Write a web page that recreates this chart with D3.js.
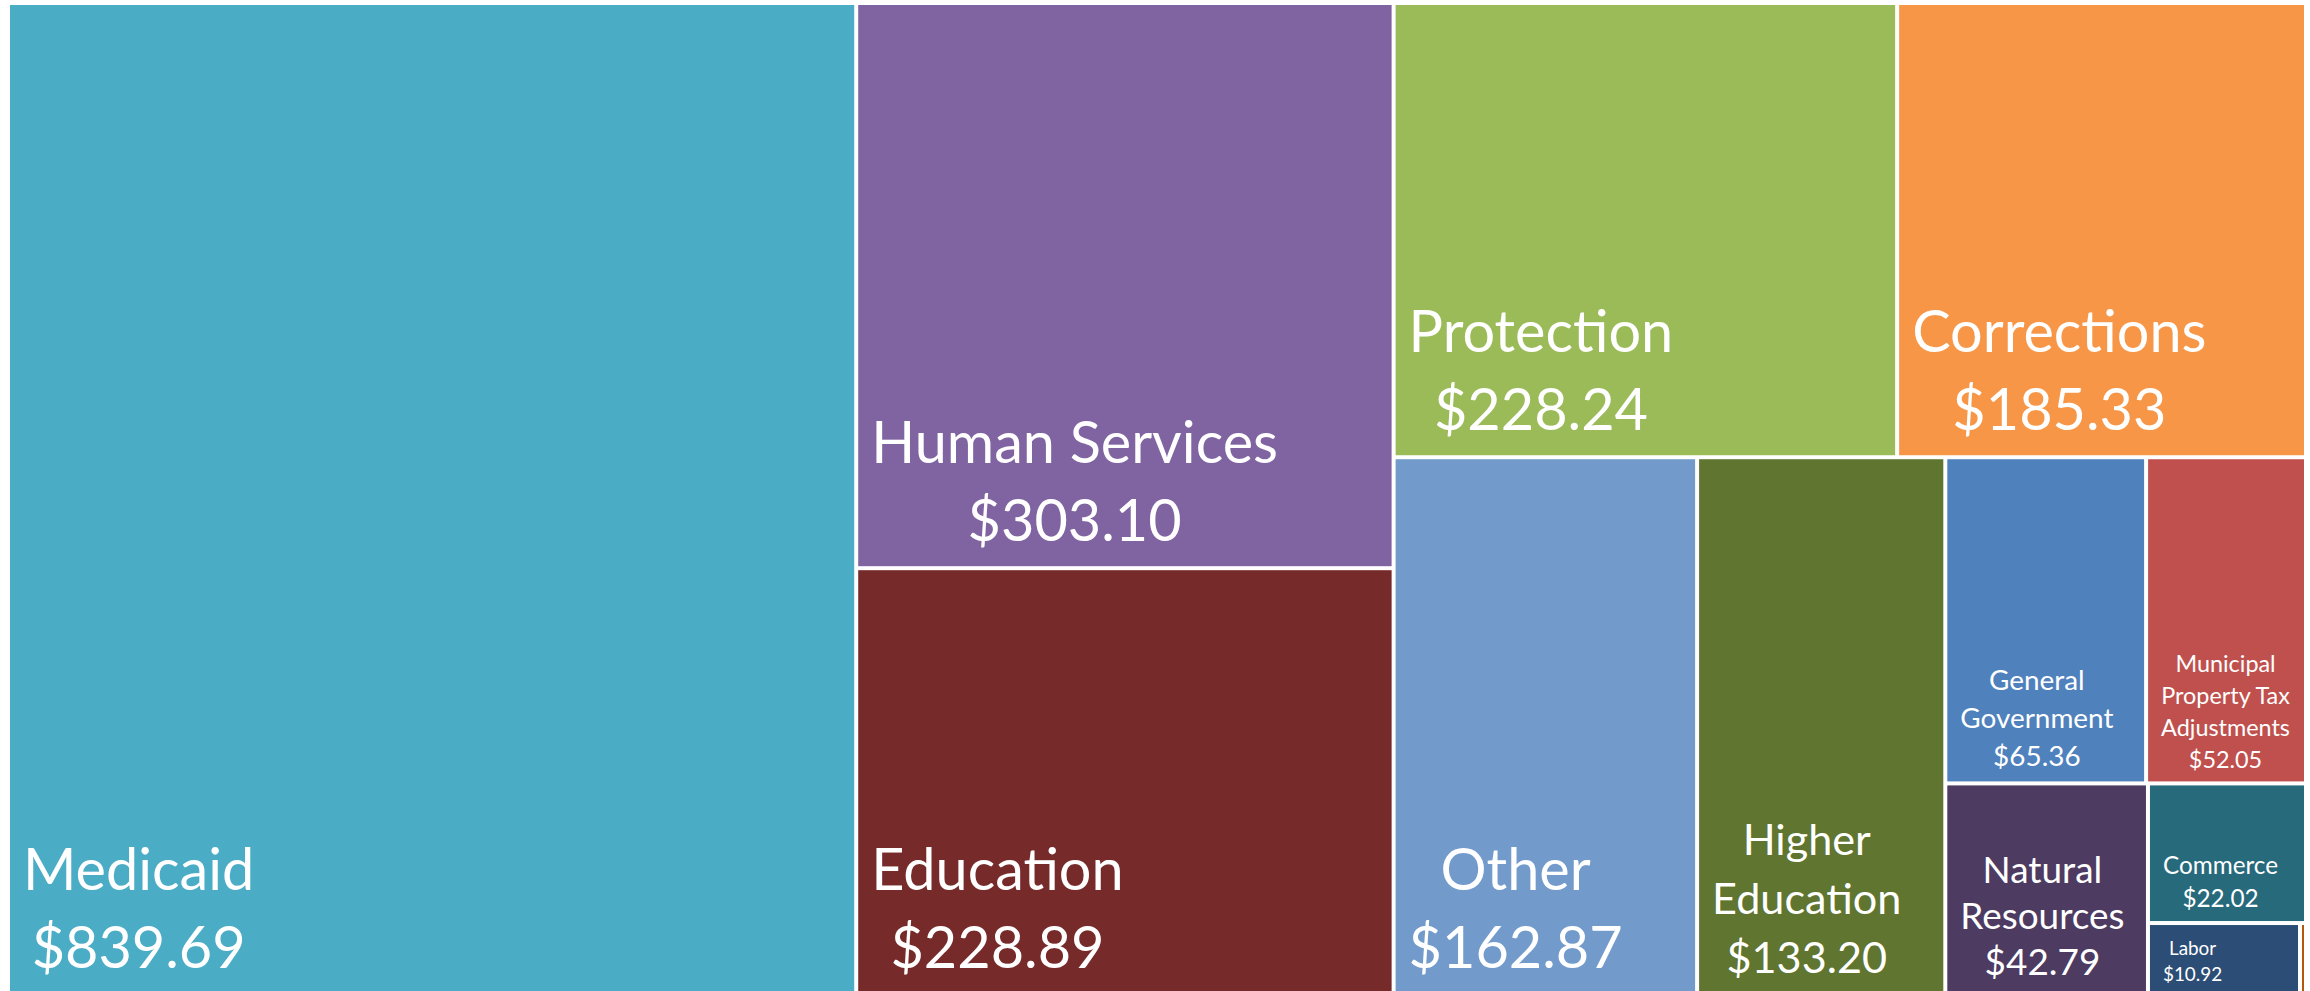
<!DOCTYPE html>
<html>
<head>
<meta charset="utf-8">
<script src="https://cdn.jsdelivr.net/npm/d3@7"></script>
<style>
  body { margin: 0; background: #fff; }
  .label { font-family: Lato, "Open Sans", sans-serif; fill: #fff; }
</style>
</head>
<body>
<div id="treemap"></div>
<script>
// spending by category, in millions
var categories = [
  "Medicaid", "Human Services", "Education", "Protection", "Corrections",
  "Other", "Higher Education", "General Government",
  "Municipal Property Tax Adjustments", "Natural Resources", "Commerce",
  "Labor", "Miscellaneous"
];
var amounts = [
  839.69, 303.10, 228.89, 228.24, 185.33,
  162.87, 133.20, 65.36,
  52.05, 42.79, 22.02,
  10.92, 0.43
];

var svgWidth = 2310;
var svgHeight = 991;

var margin = {
  top: 5,
  right: 6,
  bottom: -2,
  left: 10
};

var width = svgWidth - margin.left - margin.right;
var height = svgHeight - margin.top - margin.bottom;

// fill colours (office palette)
var fillOf = {
  "Medicaid": "#4BACC6",
  "Human Services": "#8064A2",
  "Education": "#772A2A",
  "Protection": "#9BBB59",
  "Corrections": "#F79646",
  "Other": "#729ACA",
  "Higher Education": "#5F7530",
  "General Government": "#4F81BD",
  "Municipal Property Tax Adjustments": "#C0504D",
  "Natural Resources": "#4D3B62",
  "Commerce": "#276A7C",
  "Labor": "#2C4D75",
  "Miscellaneous": "#B65708"
};

// label size per cell (the source shrinks text to fit small cells)
var labelSize = {
  "Higher Education": 48,
  "Natural Resources": 41,
  "General Government": 31,
  "Commerce": 27,
  "Municipal Property Tax Adjustments": 26,
  "Labor": 21
};

// how many tiles go in each strip, the way the spreadsheet laid them out
var rowSizes = [1, 2, 2, 1, 1, 2, 1, 1, 1, 1];

function stripTile(parent, x0, y0, x1, y1) {
  var nodes = parent.children;
  var value = parent.value;
  var i = 0;
  rowSizes.forEach(function(n) {
    var kids = nodes.slice(i, i + n);
    var row = {children: kids, value: d3.sum(kids, d => d.value)};
    var dx = x1 - x0, dy = y1 - y0;
    if (dx < dy) {
      d3.treemapDice(row, x0, y0, x1, y0 += dy * row.value / value);
    }
    else {
      d3.treemapSlice(row, x0, y0, x0 += dx * row.value / value, y1);
    }
    value -= row.value;
    i += n;
  });
}

var svg = d3
  .select("#treemap")
  .append("svg")
  .attr("width", svgWidth)
  .attr("height", svgHeight);

var chartGroup = svg.append("g")
  .attr("transform", `translate(${margin.left}, ${margin.top})`);

var root = d3.hierarchy({
    children: categories.map((c, i) => ({name: c, value: amounts[i]}))
  })
  .sum(d => d.value || 0)
  .sort((a, b) => b.value - a.value);

d3.treemap()
  .size([width, height])
  .paddingInner(4)
  .tile(stripTile)(root);

var cells = chartGroup.selectAll("g.cell")
  .data(root.leaves())
  .enter()
  .append("g")
  .classed("cell", true)
  .attr("transform", d => `translate(${d.x0}, ${d.y0})`);

cells.append("rect")
  .attr("width", d => d.x1 - d.x0)
  .attr("height", d => d.y1 - d.y0)
  .attr("fill", d => fillOf[d.data.name]);

// labels: word-wrapped name + amount, block sits at the bottom left
cells.each(function(d) {
  var w = d.x1 - d.x0, h = d.y1 - d.y0;
  if (w < 30) return;
  var g = d3.select(this);
  var fs = labelSize[d.data.name] || 64;
  var px = fs * 0.9;
  var lineH = Math.min(fs, 38) === 38 && fs < 45 ? 46 : fs * 1.22;

  var text = g.append("text")
    .classed("label", true)
    .attr("font-size", px + "px")
    .attr("text-anchor", "middle");

  // greedy wrap
  var words = d.data.name.split(" ");
  var lines = [];
  var line = [];
  var probe = text.append("tspan");
  words.forEach(function(word) {
    line.push(word);
    probe.text(line.join(" "));
    if (probe.node().getComputedTextLength() > w - 22 && line.length > 1) {
      line.pop();
      lines.push(line.join(" "));
      line = [word];
    }
  });
  lines.push(line.join(" "));
  probe.remove();
  lines.push("$" + d.data.value.toFixed(2));

  var bottom = h - (0.3 * fs + 6);
  var spans = text.selectAll("tspan")
    .data(lines)
    .enter()
    .append("tspan")
    .attr("y", (l, i) => bottom - (lines.length - 1 - i) * lineH)
    .text(l => l);

  var maxW = d3.max(spans.nodes(), n => n.getComputedTextLength());
  spans.attr("x", 13 + maxW / 2);
});
</script>
</body>
</html>
